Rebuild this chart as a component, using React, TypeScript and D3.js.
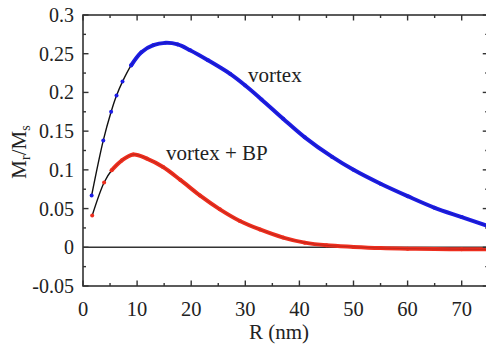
import React from "react";
import * as d3 from "d3";

// Remanent magnetization M_r/M_s versus disk radius R (nm)
const vortexR = [1.6, 3.75, 5.2, 6.2, 7.3, 8.9, 10.8, 13, 15.2, 17.5, 19.8, 23.1, 27.2, 30, 33, 37, 41, 46, 50, 55, 60, 65, 70, 75];
const vortexM = [0.067, 0.138, 0.175, 0.196, 0.214, 0.235, 0.252, 0.261, 0.264, 0.262, 0.2545, 0.2416, 0.224, 0.209, 0.191, 0.166, 0.142, 0.117, 0.1, 0.082, 0.066, 0.051, 0.039, 0.027];

const vortexBpR = [1.7, 3.9, 5.3, 7.15, 9.3, 11.8, 14.8, 18, 21.6, 25.3, 29, 32.7, 37, 41, 45, 50, 55, 60, 65, 70, 75];
const vortexBpM = [0.041, 0.0836, 0.0995, 0.112, 0.1198, 0.1146, 0.1037, 0.087, 0.067, 0.049, 0.034, 0.023, 0.0125, 0.006, 0.0025, 0.0005, -0.001, -0.0018, -0.0022, -0.0025, -0.0027];

const xTicks = [0, 10, 20, 30, 40, 50, 60, 70];
const yTicks = [-0.05, 0, 0.05, 0.1, 0.15, 0.2, 0.25, 0.3];
const yTickLabels = ["-0.05", "0", "0.05", "0.1", "0.15", "0.2", "0.25", "0.3"];

const W = 486;
const H = 347;
const left = 83;
const top = 15;
const bottom = 286;
const pxPerNm = 5.41;

const x = d3.scaleLinear().domain([0, 75]).range([left, left + 75 * pxPerNm]);
const y = d3.scaleLinear().domain([-0.05, 0.3]).range([bottom, top]);

type Pt = [number, number];
const zip = (a: number[], b: number[]): Pt[] => a.map((v, i) => [v, b[i]]);

const line = d3
  .line<Pt>()
  .x((d) => x(d[0]))
  .y((d) => y(d[1]))
  .curve(d3.curveCatmullRom.alpha(0.5));

const AXIS = "#333";
const BLUE = "#1c1ce6";
const RED = "#ee2e1e";
const FONT = "Liberation Serif, Times New Roman, serif";
// text is set at twice its size and scaled down by half
const K = 2;

function Label({
  x0,
  y0,
  size,
  anchor = "start",
  rotate = 0,
  children,
}: {
  x0: number;
  y0: number;
  size: number;
  anchor?: string;
  rotate?: number;
  children: React.ReactNode;
}) {
  return (
    <text
      transform={`translate(${x0},${y0}) rotate(${rotate}) scale(${1 / K})`}
      fontFamily={FONT}
      fontSize={size * K}
      textAnchor={anchor}
      fill="#222"
    >
      {children}
    </text>
  );
}

function Series({ pts, color, denseFrom }: { pts: Pt[]; color: string; denseFrom: number }) {
  const dense = pts.filter((d) => d[0] >= denseFrom);
  return (
    <g>
      <path d={line(pts) || ""} fill="none" stroke="#111" strokeWidth={1.4} />
      <path d={line(dense) || ""} fill="none" stroke={color} strokeWidth={4} strokeLinecap="round" />
      {pts.map((d, i) => (
        <circle key={i} cx={x(d[0])} cy={y(d[1])} r={2} fill={color} />
      ))}
      <path d={line(dense) || ""} fill="none" stroke="#111" strokeWidth={0.6} opacity={0.35} />
    </g>
  );
}

export default function App() {
  const xMinor = d3.range(5, 76, 10);
  const yMinor = d3.range(-0.025, 0.3, 0.05);
  const xr = x.range()[1];
  return (
    <svg width={W} height={H} style={{ position: "absolute", left: 0, top: 0, background: "#fff" }}>
      <rect x={0} y={0} width={W} height={H} fill="#fff" />
      {/* zero reference */}
      <line x1={left} x2={xr} y1={y(0)} y2={y(0)} stroke={AXIS} strokeWidth={1.5} />

      <Series pts={zip(vortexBpR, vortexBpM)} color={RED} denseFrom={5} />
      <Series pts={zip(vortexR, vortexM)} color={BLUE} denseFrom={8.5} />

      {/* frame */}
      <rect x={left} y={top} width={xr - left} height={bottom - top} fill="none" stroke={AXIS} strokeWidth={1.6} />

      {/* ticks */}
      {xTicks.map((t) => (
        <g key={"xt" + t}>
          <line x1={x(t)} x2={x(t)} y1={bottom} y2={bottom - 5.5} stroke={AXIS} strokeWidth={1.4} />
          <line x1={x(t)} x2={x(t)} y1={top} y2={top + 5.5} stroke={AXIS} strokeWidth={1.4} />
        </g>
      ))}
      {xMinor.map((t) => (
        <g key={"xm" + t}>
          <line x1={x(t)} x2={x(t)} y1={bottom} y2={bottom - 3} stroke={AXIS} strokeWidth={1.4} />
          <line x1={x(t)} x2={x(t)} y1={top} y2={top + 3} stroke={AXIS} strokeWidth={1.4} />
        </g>
      ))}
      {yTicks.map((t) => (
        <g key={"yt" + t}>
          <line x1={left} x2={left + 5.5} y1={y(t)} y2={y(t)} stroke={AXIS} strokeWidth={1.4} />
          <line x1={xr} x2={xr - 6} y1={y(t)} y2={y(t)} stroke={AXIS} strokeWidth={1.4} />
        </g>
      ))}
      {yMinor.map((t, i) => (
        <g key={"ym" + i}>
          <line x1={left} x2={left + 3} y1={y(t)} y2={y(t)} stroke={AXIS} strokeWidth={1.4} />
          <line x1={xr} x2={xr - 3.5} y1={y(t)} y2={y(t)} stroke={AXIS} strokeWidth={1.4} />
        </g>
      ))}

      {/* tick labels */}
      {xTicks.map((t) => (
        <Label key={"xl" + t} x0={x(t)} y0={316} size={20.5} anchor="middle">
          {t}
        </Label>
      ))}
      {yTicks.map((t, i) => (
        <Label key={"yl" + t} x0={74} y0={y(t) + 7} size={20} anchor="end">
          {yTickLabels[i]}
        </Label>
      ))}

      {/* axis titles */}
      <Label x0={279} y0={339} size={21} anchor="middle">
        R (nm)
      </Label>
      <Label x0={26} y0={152} size={21} anchor="middle" rotate={-90}>
        M<tspan fontSize={14 * K} dy={4 * K}>r</tspan>
        <tspan dy={-4 * K}>/M</tspan>
        <tspan fontSize={14 * K} dy={4 * K}>s</tspan>
      </Label>

      {/* series labels */}
      <Label x0={248} y0={82} size={21}>
        vortex
      </Label>
      <Label x0={166} y0={160} size={21}>
        vortex + BP
      </Label>
    </svg>
  );
}
